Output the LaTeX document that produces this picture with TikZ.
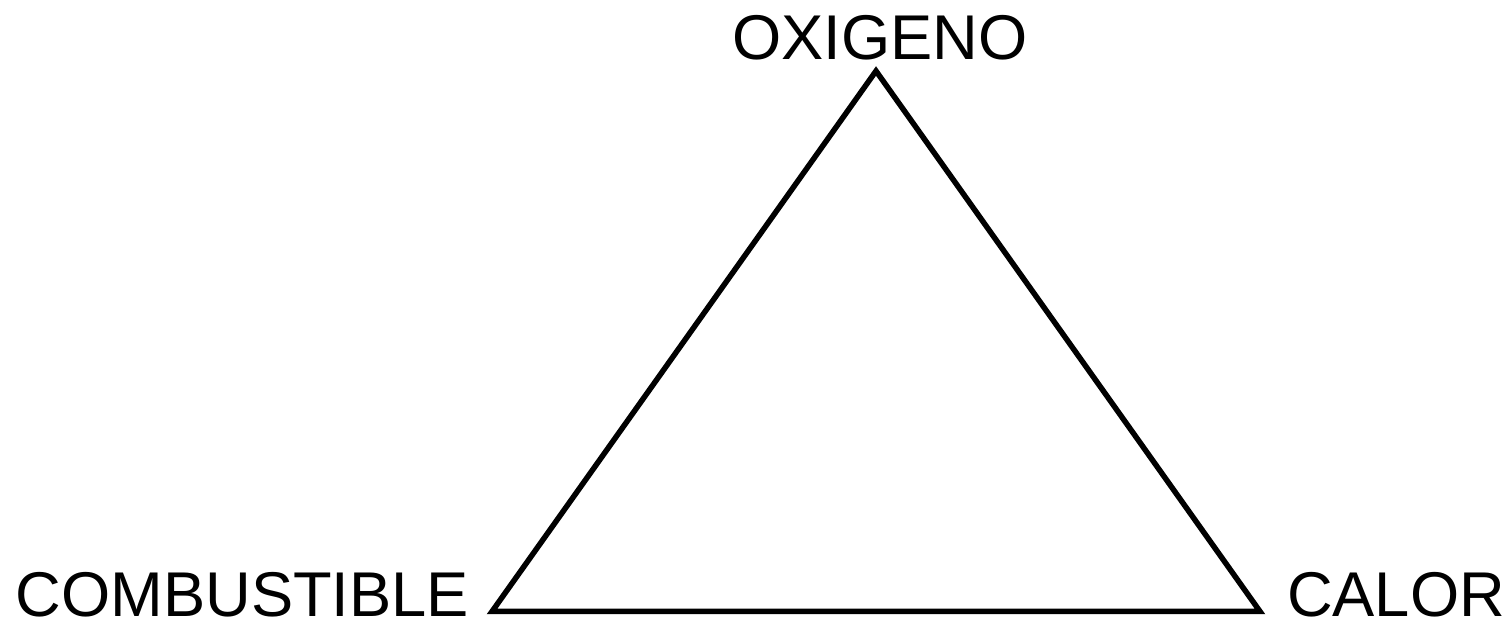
\documentclass[tikz,border=0pt]{standalone}
\usepackage{fontspec}
\setmainfont{Liberation Sans}
\usetikzlibrary{calc}

\begin{document}
\begin{tikzpicture}[x=.02cm,y=.02cm,font=\fontsize{36}{40}\selectfont]
 \tikzset{corner/.style={inner sep=0pt,outer sep=0pt}}
 \useasboundingbox (0,0) rectangle (1506,624);
 \coordinate (apex) at (876,553);
 \coordinate (fuel) at (492,12.5);
 \coordinate (heat) at (1260,12.5);
 \draw[line width=.11cm] (apex)--(fuel)--(heat)--cycle;
 \node[corner,anchor=base] (oxi) at (880,564) {OXIGENO};
 \node[corner,anchor=base east] (comb) at (469,7) {COMBUSTIBLE};
 \node[corner,anchor=base west] (cal) at (1287,7) {CALOR};
\end{tikzpicture}
\end{document}
